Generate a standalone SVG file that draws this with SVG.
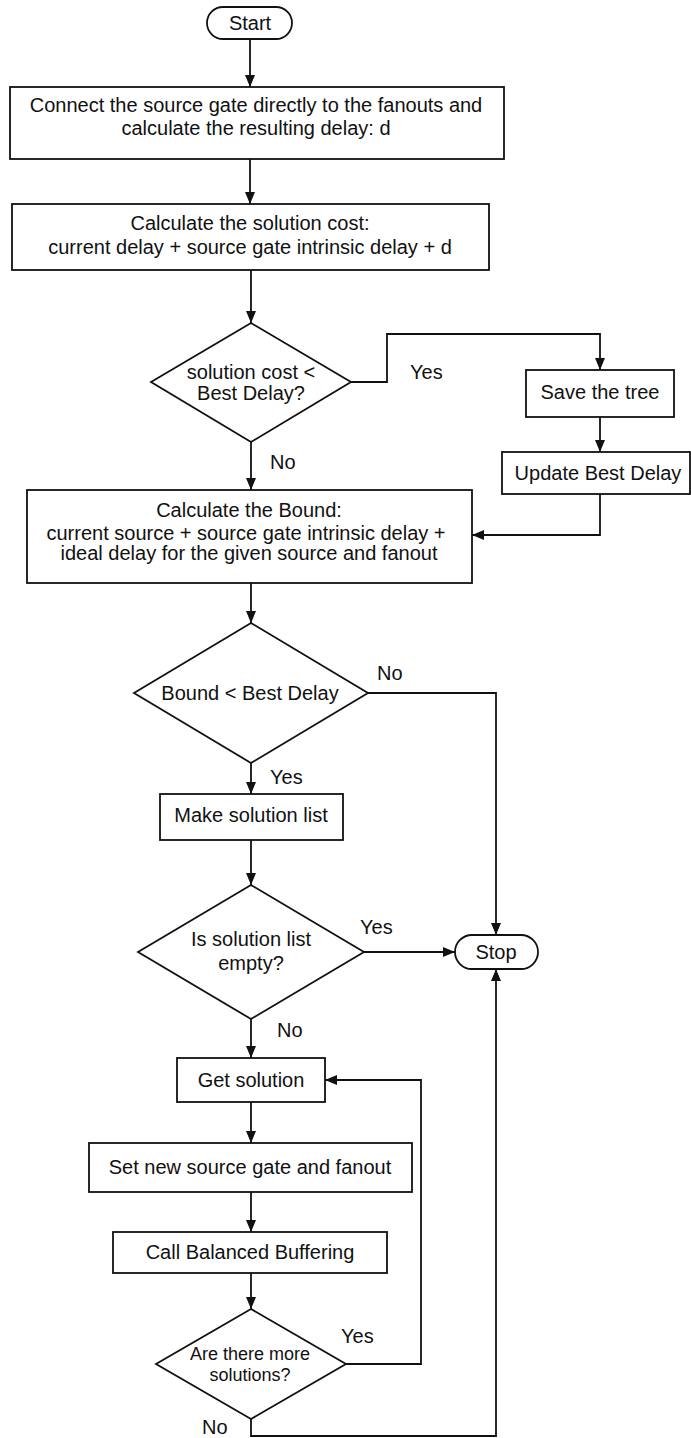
<svg xmlns="http://www.w3.org/2000/svg" width="691" height="1438" viewBox="0 0 691 1438">
<defs>
<marker id="ah" markerUnits="userSpaceOnUse" markerWidth="12" markerHeight="12" viewBox="0 0 12 12" refX="12" refY="6" orient="auto">
<path d="M0,1 L12,6 L0,11 Z" fill="#111"/>
</marker>
<style>
.box{fill:#fff;stroke:#111;stroke-width:1.8}
.t{font-family:"Liberation Sans",Arial,sans-serif;font-size:20px;fill:#111;text-anchor:middle}
.s{font-size:18px}
.l{font-family:"Liberation Sans",Arial,sans-serif;font-size:20px;fill:#111}
.c{fill:none;stroke:#111;stroke-width:1.8;marker-end:url(#ah)}
</style>
</defs>
<rect width="691" height="1438" fill="#fff"/>
<g id="connectors">
<path class="c" d="M250,39 V87"/>
<path class="c" d="M250,159 V204"/>
<path class="c" d="M251,270 V323"/>
<path class="c" d="M351,382 H387 V334 H600 V370"/>
<path class="c" d="M600,417 V452"/>
<path class="c" d="M600,494 V535 H472"/>
<path class="c" d="M251,442 V490"/>
<path class="c" d="M251,583 V623"/>
<path class="c" d="M368,693 H496 V935"/>
<path class="c" d="M251,763 V794"/>
<path class="c" d="M251,840 V885"/>
<path class="c" d="M364,952 H455"/>
<path class="c" d="M251,1019 V1058"/>
<path class="c" d="M251,1102 V1143"/>
<path class="c" d="M251,1192 V1232"/>
<path class="c" d="M251,1273 V1309"/>
<path class="c" d="M346,1364 H421 V1080 H325"/>
<path class="c" d="M251,1419 V1436 H496 V969"/>
<text class="l" x="410" y="379">Yes</text>
<text class="l" x="270" y="469">No</text>
<text class="l" x="377" y="680">No</text>
<text class="l" x="270" y="784">Yes</text>
<text class="l" x="360" y="934">Yes</text>
<text class="l" x="277" y="1037">No</text>
<text class="l" x="341" y="1343">Yes</text>
<text class="l" x="202" y="1434">No</text>
</g>
<g id="start">
<rect class="box" x="207" y="7" width="85" height="32" rx="16"/>
<text class="t" x="250" y="30">Start</text>
</g>
<g id="connect">
<rect class="box" x="10" y="87" width="494" height="72"/>
<text class="t" x="256" y="112">Connect the source gate directly to the fanouts and</text>
<text class="t" x="256" y="135">calculate the resulting delay: d</text>
</g>
<g id="cost">
<rect class="box" x="12" y="204" width="477" height="66"/>
<text class="t" x="250" y="230">Calculate the solution cost:</text>
<text class="t" x="250" y="254">current delay + source gate intrinsic delay + d</text>
</g>
<g id="dec-cost">
<polygon class="box" points="251,323 351,382 251,442 151,382"/>
<text class="t" x="251" y="379">solution cost &lt;</text>
<text class="t" x="251" y="400">Best Delay?</text>
</g>
<g id="save">
<rect class="box" x="526" y="370" width="148" height="47"/>
<text class="t" x="600" y="399">Save the tree</text>
</g>
<g id="update">
<rect class="box" x="502" y="452" width="188" height="42"/>
<text class="t" x="598" y="480">Update Best Delay</text>
</g>
<g id="bound">
<rect class="box" x="27" y="490" width="445" height="93"/>
<text class="t" x="249" y="517">Calculate the Bound:</text>
<text class="t" x="246" y="540">current source + source gate intrinsic delay +</text>
<text class="t" x="249" y="560">ideal delay for the given source and fanout</text>
</g>
<g id="dec-bound">
<polygon class="box" points="251,623 368,693 251,763 134,693"/>
<text class="t" x="250" y="700">Bound &lt; Best Delay</text>
</g>
<g id="make">
<rect class="box" x="160" y="794" width="183" height="46"/>
<text class="t" x="251" y="822">Make solution list</text>
</g>
<g id="dec-empty">
<polygon class="box" points="251,885 364,952 251,1019 138,952"/>
<text class="t" x="251" y="946">Is solution list</text>
<text class="t" x="251" y="970">empty?</text>
</g>
<g id="stop">
<rect class="box" x="455" y="935" width="83" height="34" rx="17"/>
<text class="t" x="496" y="959">Stop</text>
</g>
<g id="get">
<rect class="box" x="177" y="1058" width="148" height="44"/>
<text class="t" x="251" y="1087">Get solution</text>
</g>
<g id="setnew">
<rect class="box" x="89" y="1143" width="323" height="49"/>
<text class="t" x="250" y="1174">Set new source gate and fanout</text>
</g>
<g id="call">
<rect class="box" x="113" y="1232" width="274" height="41"/>
<text class="t" x="250" y="1259">Call Balanced Buffering</text>
</g>
<g id="dec-more">
<polygon class="box" points="251,1309 346,1364 251,1419 156,1364"/>
<text class="t s" x="250" y="1360">Are there more</text>
<text class="t s" x="250" y="1381">solutions?</text>
</g>
</svg>
